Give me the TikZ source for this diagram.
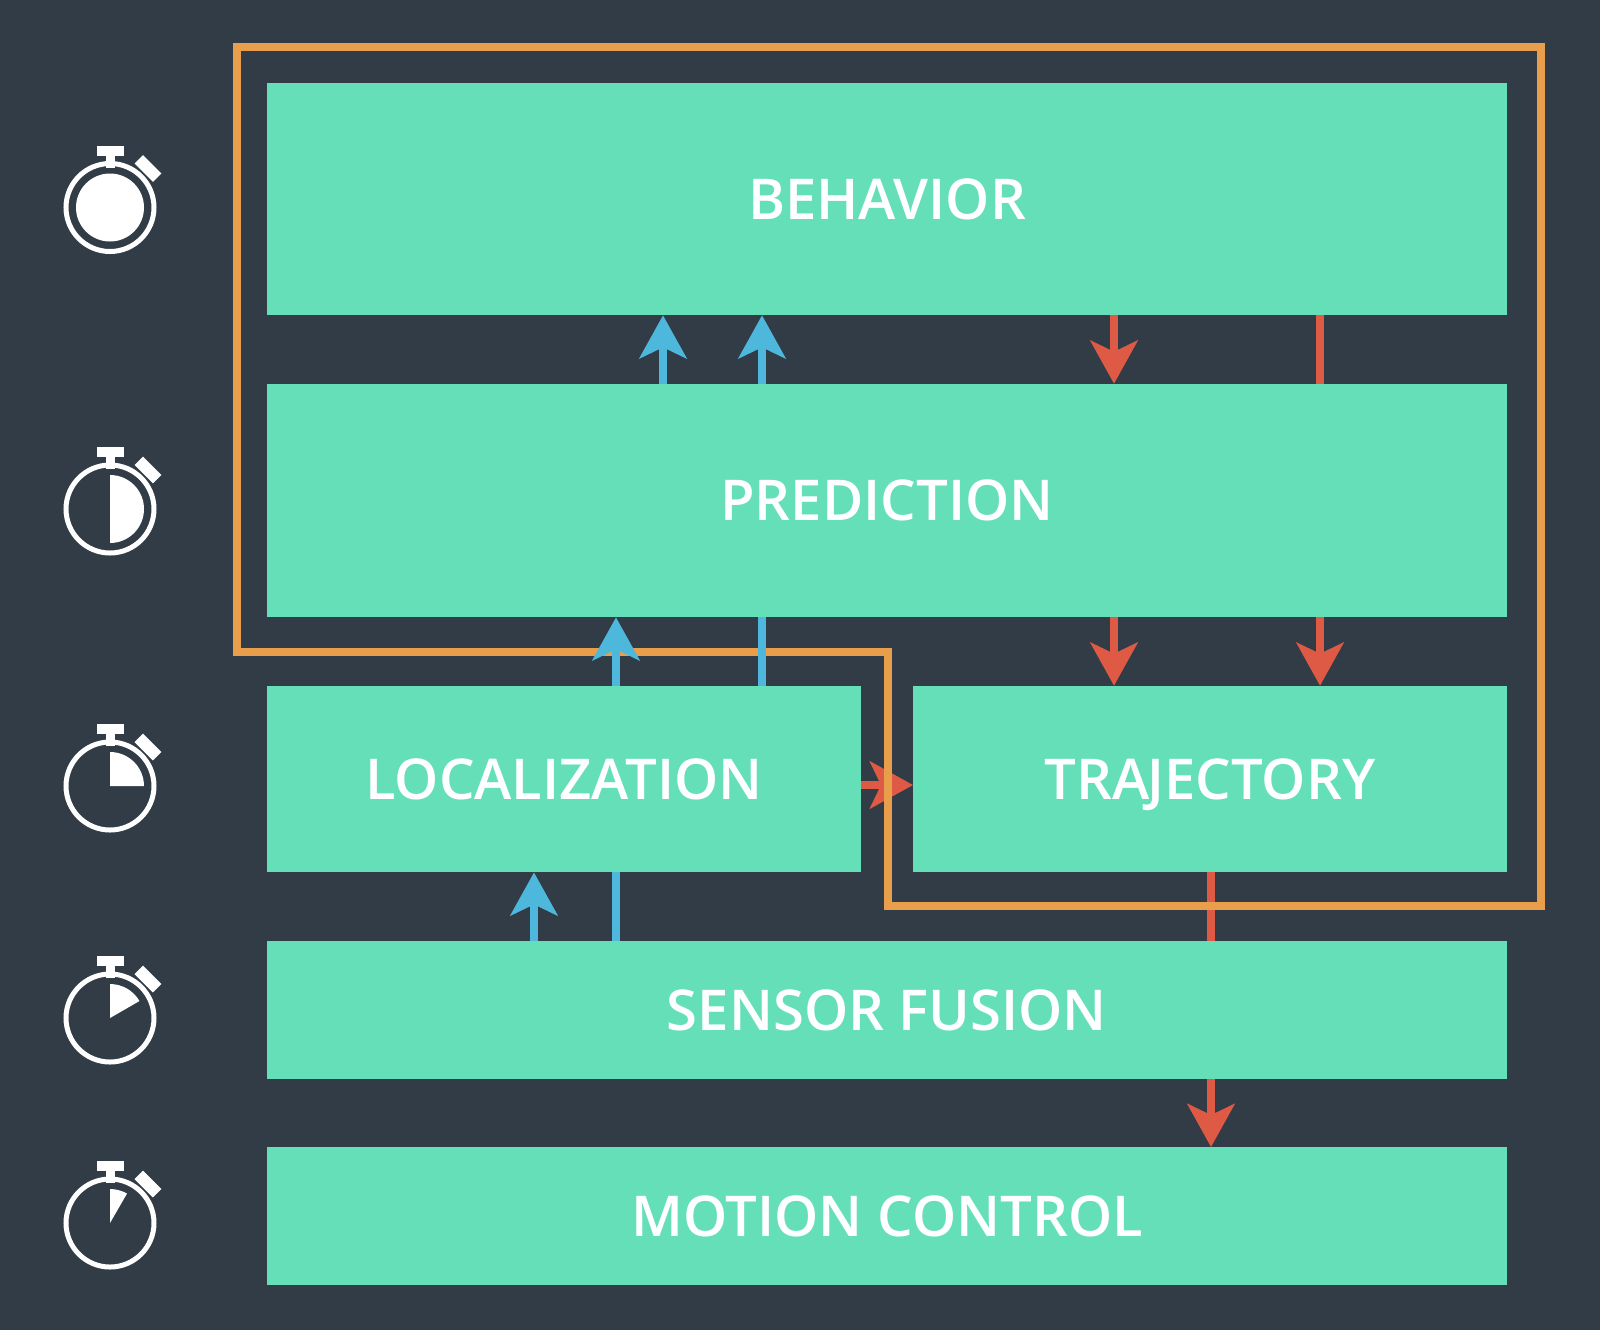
\documentclass[tikz,border=0pt]{standalone}
\usepackage{fontspec}
\setmainfont{Open Sans}
\newfontfamily\layerfont{Open Sans Semibold}
\usepackage{xcolor}
\usetikzlibrary{positioning,arrows.meta,calc}
\definecolor{slate}{HTML}{323C47}
\definecolor{mint}{HTML}{65DFB8}
\definecolor{amber}{HTML}{E99E4C}
\definecolor{skyblue}{HTML}{4DB8DC}
\definecolor{tomato}{HTML}{DF5A45}
\tikzset{
  layer/.style   = {rectangle, fill=mint, text=white, inner sep=0pt, outer sep=0pt, align=center,
                    minimum width=124mm, text height=4.07mm, text depth=0pt,
                    font=\layerfont\fontsize{16}{18}\selectfont},
  halflayer/.style = {layer, minimum width=59.4mm, minimum height=18.67mm},
  up/.style      = {-{Stealth[length=4.3mm,width=4.7mm,inset=1.1mm]}, line width=0.88mm, skyblue},
  down/.style    = {-{Stealth[length=4.3mm,width=4.7mm,inset=1.1mm]}, line width=0.88mm, tomato},
  upline/.style  = {line width=0.88mm, skyblue},
  downline/.style= {line width=0.88mm, tomato},
  loopline/.style= {line width=0.8mm, amber, line join=miter},
  watch/.pic     = {
    \draw[white, line width=0.5mm] (0,0) circle (4.4mm);
    \fill[white] (-0.45mm,4mm) rectangle (0.45mm,5.4mm);
    \fill[white] (-1.35mm,5.2mm) rectangle (1.35mm,6.2mm);
    \fill[white, shift={(3.8mm,3.9mm)}, rotate=-45] (-1.3mm,-0.6mm) rectangle (1.3mm,0.6mm);
    \fill[white] (0,0) -- (0,3.4mm) arc[start angle=90, end angle=#1, radius=3.4mm] -- cycle;
  },
}
\begin{document}
\begin{tikzpicture}[node distance=6.84mm]
  \useasboundingbox[fill=slate] (0,0) rectangle (160mm,-133mm);

  \node[layer,minimum height=23.26mm,anchor=north west] (behavior) at (26.7mm,-8.27mm) {BEHAVIOR};
  \node[layer,minimum height=23.36mm,below=of behavior] (prediction) {PREDICTION};
  \node[halflayer,below=of prediction.south west,anchor=north west] (localization) {LOCALIZATION};
  \node[halflayer,below=of prediction.south east,anchor=north east] (trajectory) {TRA\kern-0.04em JECTORY};
  \node[layer,minimum height=13.78mm,below=of localization.south west,anchor=north west] (fusion) {SENSOR FUSION};
  \node[layer,minimum height=13.78mm,below=of fusion] (control) {MOTION CONTROL};

  % columns of the connectors
  \coordinate (c1) at (53.4mm,0);
  \coordinate (c2) at (61.6mm,0);
  \coordinate (c3) at (66.3mm,0);
  \coordinate (c4) at (76.2mm,0);
  \coordinate (c5) at (111.4mm,0);
  \coordinate (c6) at (121.1mm,0);
  \coordinate (c7) at (132mm,0);
  \coordinate (r1) at (0,-78.5mm);

  \draw[down] (localization.east |- r1) -- (trajectory.west |- r1);
  \draw[downline] (c6 |- trajectory.south) -- (c6 |- fusion.north);

  % subsystem outline
  \draw[loopline] (23.7mm,-4.7mm) -| (154.1mm,-90.6mm) -| (88.8mm,-65.2mm) -- (23.7mm,-65.2mm) -- cycle;

  \draw[up] (c3 |- prediction.north) -- (c3 |- behavior.south);
  \draw[up] (c4 |- prediction.north) -- (c4 |- behavior.south);
  \draw[down] (c5 |- behavior.south) -- (c5 |- prediction.north);
  \draw[downline] (c7 |- behavior.south) -- (c7 |- prediction.north);
  \draw[up] (c2 |- localization.north) -- (c2 |- prediction.south);
  \draw[upline] (c4 |- prediction.south) -- (c4 |- localization.north);
  \draw[down] (c5 |- prediction.south) -- (c5 |- trajectory.north);
  \draw[down] (c7 |- prediction.south) -- (c7 |- trajectory.north);
  \draw[up] (c1 |- fusion.north) -- (c1 |- localization.south);
  \draw[upline] (c2 |- localization.south) -- (c2 |- fusion.north);
  \draw[down] (c6 |- fusion.south) -- (c6 |- control.north);

  \pic at (11mm,-20.75mm) {watch=-270};
  \pic at (11mm,-50.9mm) {watch=-90};
  \pic at (11mm,-78.6mm) {watch=0};
  \pic at (11mm,-101.8mm) {watch=30};
  \pic at (11mm,-122.3mm) {watch=60};
\end{tikzpicture}
\end{document}
